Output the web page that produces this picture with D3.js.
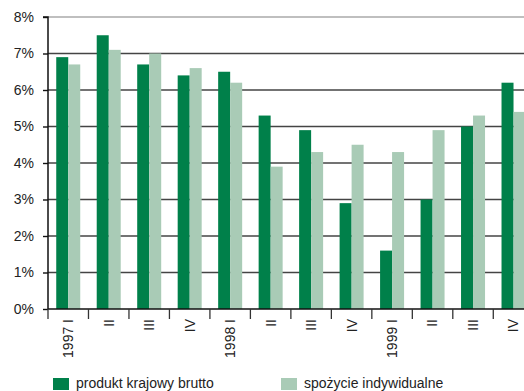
<!DOCTYPE html>
<html><head><meta charset="utf-8">
<script src="https://cdn.jsdelivr.net/npm/d3@7"></script>
<style>body{margin:0;background:#fff}svg{display:block}text{font-family:"Liberation Sans",Arial,sans-serif;fill:#222}</style>
</head><body>
<script>
const categories = ["1997 I","II","III","IV","1998 I","II","III","IV","1999 I","II","III","IV"];
const seriesNames = ["produkt krajowy brutto","spożycie indywidualne"];
const gdp = [6.9,7.5,6.7,6.4,6.5,5.3,4.9,2.9,1.6,3.0,5.0,6.2];
const consumption = [6.7,7.1,7.0,6.6,6.2,3.9,4.3,4.5,4.3,4.9,5.3,5.4];
const yTicks = [0,1,2,3,4,5,6,7,8];
const colors = ["#00804a","#a9cbb6"];

const W = 524, H = 391;
const svg = d3.select("body").append("svg").attr("width", W).attr("height", H);
const left = 48, step = 40.48;
const x0 = d3.scaleBand().domain(categories.map((c,i)=>i)).range([left, left + step*categories.length]).padding(0);
const bw = x0.bandwidth();
const x1 = d3.scaleBand().domain([0,1]).range([bw/2-12, bw/2+12]).padding(0);
const y = d3.scaleLinear().domain([0,8]).range([309,17]);

// gridlines
svg.append("g").selectAll("line").data(yTicks.filter(t=>t>0)).join("line")
  .attr("x1", left).attr("x2", W).attr("y1", d=>y(d)).attr("y2", d=>y(d))
  .attr("stroke", d=> d===8 ? "#aaa" : "#444").attr("stroke-width", 1.4);

// bars
const data = [gdp, consumption];
const g = svg.append("g");
categories.forEach((c,i)=>{
  data.forEach((s,j)=>{
    g.append("rect")
      .attr("x", x0(i)+x1(j)).attr("width", x1.bandwidth())
      .attr("y", y(s[i])).attr("height", y(0)-y(s[i]))
      .attr("fill", colors[j]);
  });
});

// y axis
const yAxis = d3.axisLeft(y).tickValues(yTicks).tickFormat(d=>d+"%").tickSize(5).tickPadding(9);
const ya = svg.append("g").attr("transform",`translate(${left},0)`).call(yAxis);
ya.select(".domain").attr("stroke","#111").attr("stroke-width",1.5).attr("d",`M-5,${y(8)}H0V${y(0)}`);
ya.selectAll(".tick line").attr("stroke","#111").attr("stroke-width",1.4);
ya.selectAll("text").attr("font-size",14).attr("fill","#222").attr("font-family","Liberation Sans, Arial, sans-serif");

// x axis baseline & ticks
svg.append("line").attr("x1",left).attr("x2",W).attr("y1",y(0)).attr("y2",y(0)).attr("stroke","#111").attr("stroke-width",1.5);
svg.append("g").selectAll("line").data(categories.map((c,i)=>i)).join("line")
  .attr("x1",d=>x0(d)).attr("x2",d=>x0(d)).attr("y1",y(0)).attr("y2",y(0)+10)
  .attr("stroke","#333").attr("stroke-width",1.3);

// x labels
svg.append("g").selectAll("text").data(categories).join("text")
  .attr("transform",(d,i)=>`translate(${x0(i)+bw/2},319) rotate(-90)`)
  .attr("text-anchor","end").attr("dy","0.35em").attr("font-size",14).text(d=>d);

// legend
const legX = [53, 281];
seriesNames.forEach((n,j)=>{
  svg.append("rect").attr("x",legX[j]).attr("y",378).attr("width",16).attr("height",12).attr("fill",colors[j]);
  svg.append("text").attr("x",legX[j]+23).attr("y",388).attr("font-size",14).text(n);
});
</script>
</body></html>
